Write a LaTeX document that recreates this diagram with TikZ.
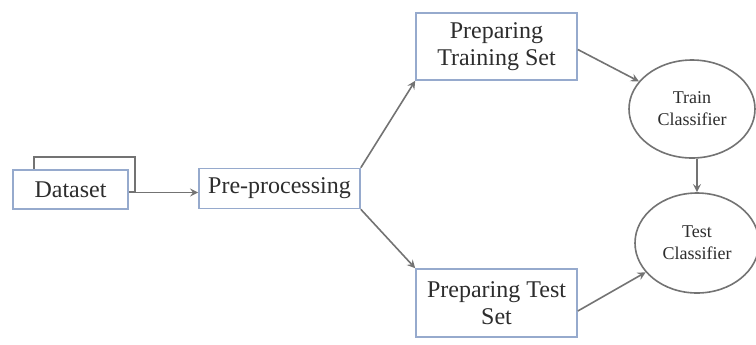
\documentclass[tikz,border=0pt]{standalone}
\usepackage{fontspec}
\setmainfont{Liberation Serif}
\usetikzlibrary{shapes, arrows, positioning}
\definecolor{boxline}{RGB}{150,170,205}
\definecolor{flowline}{RGB}{115,115,115}
\definecolor{inktext}{RGB}{45,45,45}
\tikzstyle{stage} = [draw=boxline, fill=white, rectangle, thick, text=inktext, align=center, font=\fontsize{12}{13.5}\selectfont, inner sep=2pt]
\tikzstyle{model} = [draw=flowline, fill=white, ellipse, thick, text=inktext, align=center, font=\fontsize{9}{11}\selectfont, inner sep=0pt]
\tikzstyle{flow} = [draw=flowline, thick, ->, >=stealth]

\begin{document}
\begin{tikzpicture}[x=0.5pt, y=-0.5pt]
	\useasboundingbox (0,0) rectangle (756,344);
	% dataset stack
	\node [rectangle, draw=flowline, thick, minimum width=50.5pt, minimum height=17.5pt] (databack) at (84.5,174.5) {};
	\node [stage, minimum width=57.5pt, minimum height=19.5pt] (data) at (70.5,189.5) {Dataset};
	\node [stage, minimum width=80.5pt, minimum height=20pt] (pre) at (279.5,188.5) {Pre-processing};
	% the two sets
	\node [stage, minimum width=80.5pt, minimum height=33.5pt] (trainset) at (496.5,46.5) {Preparing\\Training Set};
	\node [stage, minimum width=80.5pt, minimum height=34pt] (testset) at (496.5,303) {Preparing Test\\Set};
	% classifier
	\node [model, minimum width=63pt, minimum height=49pt] (trainclf) at (692,109) {Train\\Classifier};
	\node [model, minimum width=62pt, minimum height=50pt] (testclf) at (697,243) {Test\\Classifier};

	\draw [flow] ([yshift=-1.5pt]data.east) -- ([yshift=-1.5pt]data.east -| pre.west);
	\draw [flow] (pre.north east) -- (trainset.south west);
	\draw [flow] (pre.south east) -- (testset.north west);
	\draw [flow] ([yshift=-1.5pt]trainset.east) -- (trainclf);
	\draw [flow] ([yshift=-4pt]testset.east) -- (testclf);
	\draw [flow] (trainclf.south -| testclf.north) -- (testclf.north);
\end{tikzpicture}
\end{document}
